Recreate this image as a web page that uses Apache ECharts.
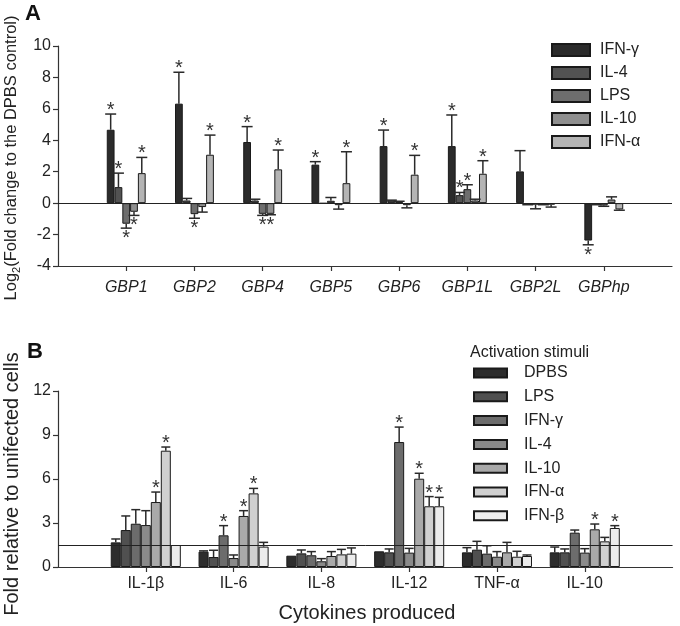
<!DOCTYPE html>
<html><head><meta charset="utf-8">
<script src="https://cdn.jsdelivr.net/npm/echarts@6/dist/echarts.min.js"></script>
<style>html,body{margin:0;padding:0;background:#fff}#c{width:680px;height:626px}</style>
</head><body><div id="c"></div>
<script>
// ---------- Panel A data ----------
const catA = ['GBP1','GBP2','GBP4','GBP5','GBP6','GBP1L','GBP2L','GBPhp'];
const namesA = ['IFN-γ','IL-4','LPS','IL-10','IFN-α'];
const colorsA = ['#2b2b2b','#525252','#6e6e6e','#8f8f8f','#b4b4b4'];
const a_ifng = [4.67, 6.33, 3.89, 2.45, 3.63, 3.63, 2.02, -2.38];
const a_ifngErr = [1.0, 2.0, 0.98, 0.19, 1.02, 1.98, 1.32, 0.27];
const a_ifngStar = [1,1,1,1,1,1,0,1];
const a_il4 = [1.02, 0.17, 0.17, -0.02, 0.17, 0.51, -0.05, -0.05];
const a_il4Err = [0.89, 0.13, 0.08, 0, 0.02, 0.17, 0.05, 0.05];
const a_il4Star = [1,0,0,0,0,1,0,0];
const a_lps = [-1.31, -0.70, -0.68, 0.15, 0.10, 0.89, -0.10, -0.15];
const a_lpsErr = [0.28, 0.26, 0.10, 0.21, 0.02, 0.28, 0.26, 0.05];
const a_lpsStar = [1,1,1,0,0,1,0,0];
const a_il10 = [-0.55, -0.25, -0.68, -0.13, -0.13, 0.17, -0.05, 0.23];
const a_il10Err = [0.23, 0.32, 0.06, 0.25, 0.17, 0.08, 0.05, 0.17];
const a_il10Star = [1,0,1,0,0,0,0,0];
const a_ifna = [1.91, 3.08, 2.15, 1.27, 1.81, 1.87, -0.10, -0.40];
const a_ifnaErr = [1.0, 1.25, 1.23, 2.0, 1.23, 0.83, 0.15, 0.05];
const a_ifnaStar = [1,1,1,1,1,1,0,0];
const yTicksA = {min: -4, max: 10, interval: 2};

// ---------- Panel B data ----------
const catB = ['IL-1β','IL-6','IL-8','IL-12','TNF-α','IL-10'];
const namesB = ['DPBS','LPS','IFN-γ','IL-4','IL-10','IFN-α','IFN-β'];
const colorsB = ['#2d2d2d','#505050','#6c6c6c','#8a8a8a','#a9a9a9','#d0d0d0','#ececec'];
const b_dpbs = [1.68, 1.05, 0.77, 1.07, 1.0, 1.0];
const b_dpbsErr = [0.23, 0.05, 0, 0, 0.32, 0.36];
const b_dpbsStar = [0,0,0,0,0,0];
const b_lps = [2.52, 0.68, 0.93, 1.0, 1.18, 1.0];
const b_lpsErr = [0.96, 0.46, 0.23, 0.23, 0.57, 0.23];
const b_lpsStar = [0,0,0,0,0,0];
const b_ifng = [2.95, 2.16, 0.8, 8.52, 0.91, 2.34];
const b_ifngErr = [0.96, 0.66, 0.25, 1.02, 0.54, 0.18];
const b_ifngStar = [0,1,0,1,0,0];
const b_il4 = [2.86, 0.61, 0.39, 0.98, 0.7, 0.98];
const b_il4Err = [0.98, 0.21, 0.18, 0.29, 0.35, 0.27];
const b_il4Star = [0,0,0,0,0,0];
const b_il10 = [4.43, 3.48, 0.75, 6.02, 1.0, 2.57];
const b_il10Err = [0.68, 0.36, 0.3, 0.37, 0.68, 0.36];
const b_il10Star = [1,1,0,1,0,1];
const b_ifna = [7.93, 5.02, 0.86, 4.14, 0.7, 1.75];
const b_ifnaErr = [0.25, 0.34, 0.34, 0.66, 0.37, 0.27];
const b_ifnaStar = [1,1,0,1,0,0];
const b_ifnb = [1.5, 1.39, 0.91, 4.14, 0.75, 2.66];
const b_ifnbErr = [0, 0.29, 0.39, 0.61, 0.07, 0.16];
const b_ifnbStar = [0,0,0,1,0,1];
const yTicksB = {min: 0, max: 12, interval: 3};
const refLineB = 1.5;

// ---------- build ----------
const FONT = "'Liberation Sans', Arial, sans-serif";
const BAR_FRAC = 0.114;
const STAR_FS = 20;
const valsA = [a_ifng, a_il4, a_lps, a_il10, a_ifna];
const errsA = [a_ifngErr, a_il4Err, a_lpsErr, a_il10Err, a_ifnaErr];
const starsA = [a_ifngStar, a_il4Star, a_lpsStar, a_il10Star, a_ifnaStar];
const valsB = [b_dpbs, b_lps, b_ifng, b_il4, b_il10, b_ifna, b_ifnb];
const errsB = [b_dpbsErr, b_lpsErr, b_ifngErr, b_il4Err, b_il10Err, b_ifnaErr, b_ifnbErr];
const starsB = [b_dpbsStar, b_lpsStar, b_ifngStar, b_il4Star, b_il10Star, b_ifnaStar, b_ifnbStar];

const axCatA = [' '].concat(catA, ['  ']);
const axCatB = [' '].concat(catB, ['  ']);

function pad(arr){ return ['-'].concat(arr, ['-']); }

function errRender(idx, n, capW){
  return function(params, api){
    const x = api.value(0), v = api.value(1), e = api.value(2), s = api.value(3);
    const sign = v >= 0 ? 1 : -1;
    const base = api.coord([x, v]);
    const tip = api.coord([x, v + sign * e]);
    const bw = api.size([1, 0])[0] * BAR_FRAC;
    const cx = base[0] + (idx - (n - 1) / 2) * bw;
    const children = [];
    const ls = {stroke: '#2a2a2a', lineWidth: 1.5};
    if (e > 0) {
      children.push({type: 'line', shape: {x1: cx, y1: base[1], x2: cx, y2: tip[1]}, style: ls});
      children.push({type: 'line', shape: {x1: cx - capW/2, y1: tip[1], x2: cx + capW/2, y2: tip[1]}, style: ls});
    }
    if (s) {
      const shift = 0.22 * STAR_FS;
      const ty = sign > 0 ? tip[1] - 8 + shift : tip[1] + 6 + shift;
      children.push({type: 'text', style: {text: '*', x: cx, y: ty, fill: '#333', font: STAR_FS + 'px ' + FONT, align: 'center', verticalAlign: 'middle'}});
    }
    return {type: 'group', children: children};
  };
}

const series = [];
namesA.forEach((nm, i) => {
  const bar = {
    type: 'bar', name: 'A:' + nm, xAxisIndex: 0, yAxisIndex: 0,
    data: pad(valsA[i]), barWidth: (BAR_FRAC*100) + '%', barGap: '0%',
    itemStyle: {color: colorsA[i], borderColor: '#1a1a1a', borderWidth: 1},
    emphasis: {disabled: true}, animation: false
  };
  if (i === 0) bar.markLine = {silent: true, symbol: 'none', animation: false, label: {show: false},
    lineStyle: {color: '#222', width: 1, type: 'solid'}, data: [{yAxis: 0}], z: 6};
  series.push(bar);
});
namesA.forEach((nm, i) => {
  series.push({
    type: 'custom', name: 'errA' + i, xAxisIndex: 0, yAxisIndex: 0, z: 4, animation: false, silent: true,
    renderItem: errRender(i, namesA.length, 11),
    data: catA.map((c, k) => [k + 1, valsA[i][k], errsA[i][k], starsA[i][k]])
  });
});
namesB.forEach((nm, i) => {
  const bar = {
    type: 'bar', name: 'B:' + nm, xAxisIndex: 1, yAxisIndex: 1,
    data: pad(valsB[i]), barWidth: (BAR_FRAC*100) + '%', barGap: '0%',
    itemStyle: {color: colorsB[i], borderColor: '#1a1a1a', borderWidth: 1},
    emphasis: {disabled: true}, animation: false
  };
  if (i === 0) bar.markLine = {silent: true, symbol: 'none', animation: false, label: {show: false},
    lineStyle: {color: '#222', width: 1, type: 'solid'}, data: [{yAxis: refLineB}], z: 6};
  series.push(bar);
});
namesB.forEach((nm, i) => {
  series.push({
    type: 'custom', name: 'errB' + i, xAxisIndex: 1, yAxisIndex: 1, z: 4, animation: false, silent: true,
    renderItem: errRender(i, namesB.length, 9),
    data: catB.map((c, k) => [k + 1, valsB[i][k], errsB[i][k], starsB[i][k]])
  });
});

const axLine = {show: true, onZero: false, lineStyle: {color: '#333', width: 1.2}};
function catAxis(gi, cats, italic, margin){
  const last = cats.length - 1;
  return {
    type: 'category', gridIndex: gi, data: cats, boundaryGap: false,
    axisLine: axLine,
    axisTick: {show: true, length: 5, lineStyle: {color: '#333', width: 1.2}, interval: (k) => k > 0 && k < last},
    axisLabel: {interval: 0, margin: margin, color: '#222', fontSize: 16, fontFamily: FONT, fontStyle: italic ? 'italic' : 'normal'},
    splitLine: {show: false}
  };
}
function valAxis(gi, t){
  return {
    type: 'value', gridIndex: gi, min: t.min, max: t.max, interval: t.interval,
    axisLine: {show: true, lineStyle: {color: '#333', width: 1.2}},
    axisTick: {show: true, length: 5, lineStyle: {color: '#333', width: 1.2}},
    axisLabel: {color: '#222', fontSize: 16, fontFamily: FONT, margin: 7},
    splitLine: {show: false}
  };
}

const option = {
  backgroundColor: '#fff',
  animation: false,
  textStyle: {fontFamily: FONT},
  grid: [
    {left: 58, right: 8, top: 46, height: 220},
    {left: 58, right: 0, top: 391, height: 176}
  ],
  xAxis: [catAxis(0, axCatA, true, 14), catAxis(1, axCatB, false, 9)],
  yAxis: [valAxis(0, yTicksA), valAxis(1, yTicksB)],
  legend: [
    {data: namesA.map(n => 'A:' + n), orient: 'vertical', left: 551, top: 42, padding: 0,
     itemWidth: 38, itemHeight: 12, itemGap: 7, icon: 'rect', selectedMode: false,
     formatter: n => n.slice(2),
     textStyle: {fontSize: 16, lineHeight: 16, color: '#222', fontFamily: FONT, padding: [0,0,0,5]}},
    {data: namesB.map(n => 'B:' + n), orient: 'vertical', left: 473, top: 365, padding: 0,
     itemWidth: 33, itemHeight: 9, itemGap: 7.8, icon: 'rect', selectedMode: false,
     formatter: n => n.slice(2),
     textStyle: {fontSize: 16, lineHeight: 16, color: '#222', fontFamily: FONT, padding: [0,0,0,12]}}
  ],
  graphic: [
    {type: 'text', left: 25, top: 3, style: {text: 'A', font: 'bold 22px ' + FONT, fill: '#111'}},
    {type: 'text', left: 27, top: 341, style: {text: 'B', font: 'bold 22px ' + FONT, fill: '#111'}},
    {type: 'text', x: 11, y: 158, rotation: Math.PI / 2,
     style: {text: '{a|Log}{s|2}{a|(Fold change to the DPBS control)}', align: 'center', verticalAlign: 'middle', fill: '#222',
       rich: {a: {fontSize: 16.5, fontFamily: FONT, fill: '#222', lineHeight: 22, verticalAlign: 'middle'},
              s: {fontSize: 11, fontFamily: FONT, fill: '#222', lineHeight: 22, verticalAlign: 'bottom', padding: [0,0,0,0]}}}},
    {type: 'text', x: 12, y: 484, rotation: Math.PI / 2,
     style: {text: 'Fold relative to unifected cells', align: 'center', verticalAlign: 'middle', fill: '#222', font: '20px ' + FONT}},
    {type: 'text', x: 367, y: 613,
     style: {text: 'Cytokines produced', align: 'center', verticalAlign: 'middle', fill: '#222', font: '20px ' + FONT}},
    {type: 'text', x: 470, y: 353,
     style: {text: 'Activation stimuli', align: 'left', verticalAlign: 'middle', fill: '#222', font: '16px ' + FONT}}
  ],
  series: series
};
const chart = echarts.init(document.getElementById('c'), null, {renderer: 'canvas'});
chart.setOption(option);
</script></body></html>
